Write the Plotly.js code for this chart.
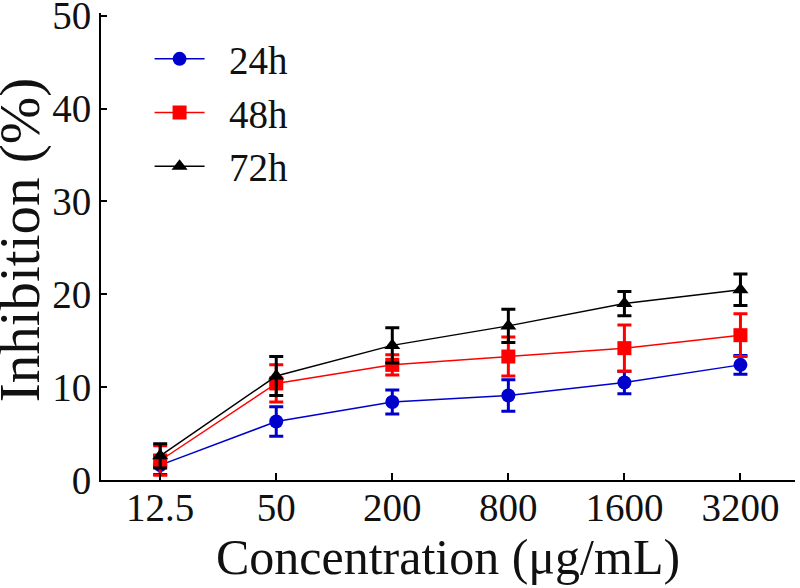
<!DOCTYPE html>
<html>
<head>
<meta charset="utf-8">
<script src="https://cdn.plot.ly/plotly-3.0.1.min.js"></script>
<style>html,body{margin:0;padding:0;background:#fff;}#chart{width:800px;height:588px;}</style>
</head>
<body>
<div id="chart"></div>
<script>
const concentrations = ['12.5', '50', '200', '800', '1600', '3200'];
const seriesNames = ['24h', '48h', '72h'];
const inhibition24h = [1.6, 6.3, 8.4, 9.1, 10.5, 12.4];
const error24h = [1.0, 1.6, 1.3, 1.7, 1.2, 1.0];
const inhibition48h = [2.1, 10.4, 12.4, 13.3, 14.2, 15.6];
const error48h = [1.6, 2.0, 1.1, 2.1, 2.5, 2.3];
const inhibition72h = [2.6, 11.2, 14.5, 16.6, 19.0, 20.5];
const error72h = [1.3, 2.1, 1.9, 1.8, 1.3, 1.7];
const yTicks = [0, 10, 20, 30, 40, 50];

const FONT = 'Liberation Serif, Times New Roman, serif';
const PAD = '\u00A0\u00A0';

function mk(name, y, err, color, symbol) {
  return {
    type: 'scatter', mode: 'lines+markers', name: PAD + name,
    x: concentrations, y: y,
    line: {color: color, width: 1.5},
    marker: {color: color, symbol: symbol, size: 14},
    error_y: {type: 'data', array: err, visible: true, color: color, thickness: 3, width: 7}
  };
}

const data = [
  mk(seriesNames[0], inhibition24h, error24h, '#0000cc', 'circle'),
  mk(seriesNames[1], inhibition48h, error48h, '#ff0000', 'square'),
  mk(seriesNames[2], inhibition72h, error72h, '#000000', 'triangle-up')
];

const layout = {
  width: 800, height: 588,
  margin: {l: 101, r: 5, t: 13, b: 108, pad: 0},
  paper_bgcolor: '#fff', plot_bgcolor: '#fff',
  font: {family: FONT, color: '#111', size: 39},
  showlegend: true,
  legend: {
    x: 0.07, y: 0.97, xanchor: 'left', yanchor: 'top',
    bgcolor: 'rgba(0,0,0,0)', borderwidth: 0,
    font: {family: FONT, size: 39, color: '#111'},
    itemwidth: 50
  },
  xaxis: {
    type: 'category',
    range: [-0.51, 5.47],
    showline: true, linecolor: '#000', linewidth: 2,
    ticks: 'inside', ticklen: 7, tickwidth: 2, tickcolor: '#000',
    showgrid: false, zeroline: false,
    ticklabelstandoff: -8,
    tickfont: {family: FONT, size: 39, color: '#111'},
    title: {text: 'Concentration (μg/mL)', font: {family: FONT, size: 50, color: '#111'}, standoff: 0}
  },
  yaxis: {
    range: [0, 50.3],
    tickvals: yTicks,
    ticklabeloverflow: 'allow',
    showline: true, linecolor: '#000', linewidth: 2,
    ticks: 'inside', ticklen: 6, tickwidth: 2, tickcolor: '#000',
    showgrid: false, zeroline: false,
    tickfont: {family: FONT, size: 39, color: '#111'}
  },
  annotations: [{
    text: 'Inhibition (%)', textangle: -90,
    xref: 'paper', yref: 'paper', x: -0.1155, y: 0.515, xanchor: 'center', yanchor: 'middle',
    showarrow: false, font: {family: FONT, size: 57, color: '#111'}
  }]
};

Plotly.newPlot('chart', data, layout, {displayModeBar: false, staticPlot: true});
</script>
</body>
</html>
